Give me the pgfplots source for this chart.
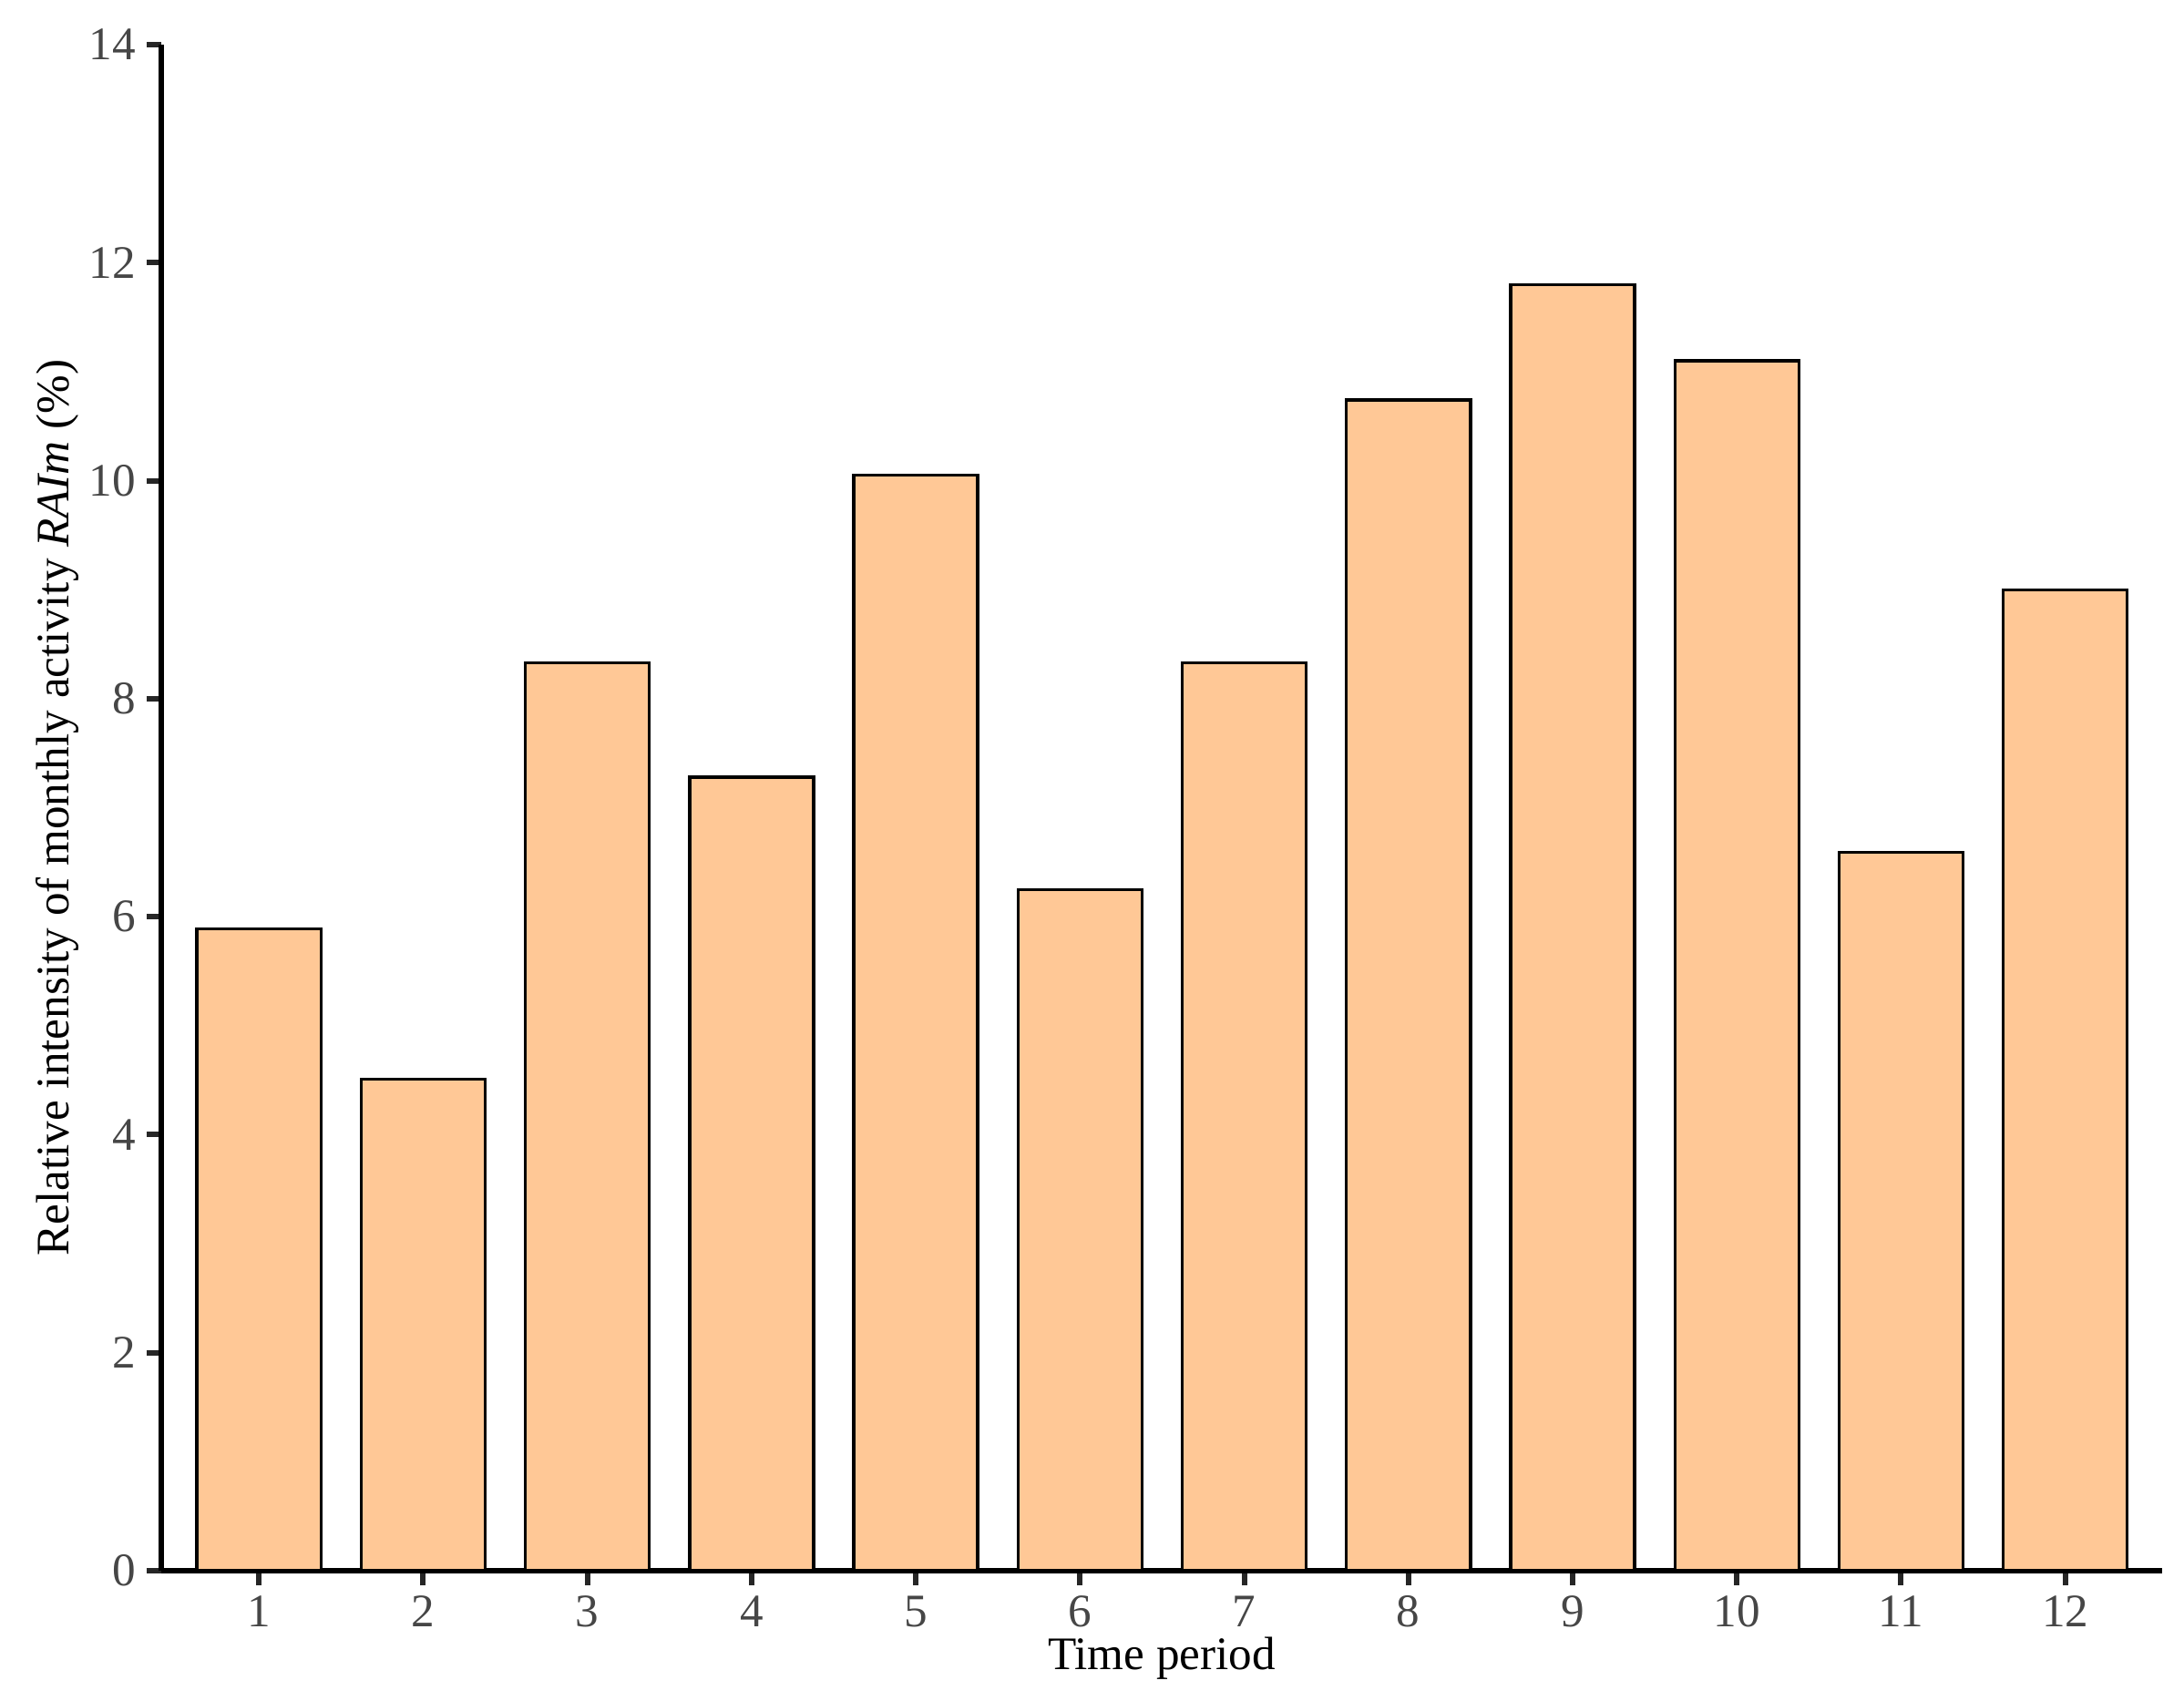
\documentclass[border=0pt]{standalone}
\usepackage{pgfplots}
\pgfplotsset{compat=1.18}
\usepackage{fontspec}
\setmainfont{Liberation Serif}
\definecolor{barfill}{RGB}{255,200,150}
\definecolor{ticktext}{RGB}{70,70,70}
\begin{document}
\fontsize{12.8}{15}\selectfont
\begin{tikzpicture}
\useasboundingbox (-44.25pt,-35.5pt) rectangle (555pt,431pt);
\begin{axis}[
  at={(0,0)}, anchor=south west,
  width=549pt, height=418.75pt, scale only axis,
  xmin=0.405, xmax=12.59, ymin=0, ymax=14,
  axis x line*=bottom, axis y line*=left,
  axis line style={line width=1.5pt, -},
  xtick={1,...,12}, ytick={0,2,...,14},
  tick align=outside, tick style={line width=1.5pt, black!85},
  major tick length=4pt,
  ticklabel style={font=\fontsize{12.8}{15}\selectfont, text=ticktext},
  xticklabel style={yshift=1.5pt},
  yticklabel style={xshift=1.5pt},
  /pgf/number format/assume math mode=true,
  xlabel={Time period}, ylabel={Relative intensity of monthly activity \textit{RAIm} (\%)},
  label style={font=\fontsize{12.8}{15}\selectfont},
  xlabel style={yshift=6pt},
  ylabel style={yshift=-5.8pt},
  ybar, bar width=0.755,
  clip=false,
]
\addplot[fill=barfill, draw=black, line width=0.85pt] coordinates {
(1,5.89) (2,4.51) (3,8.33) (4,7.28) (5,10.05) (6,6.25)
(7,8.33) (8,10.74) (9,11.80) (10,11.10) (11,6.59) (12,9.00)
};
\end{axis}
\end{tikzpicture}
\end{document}
